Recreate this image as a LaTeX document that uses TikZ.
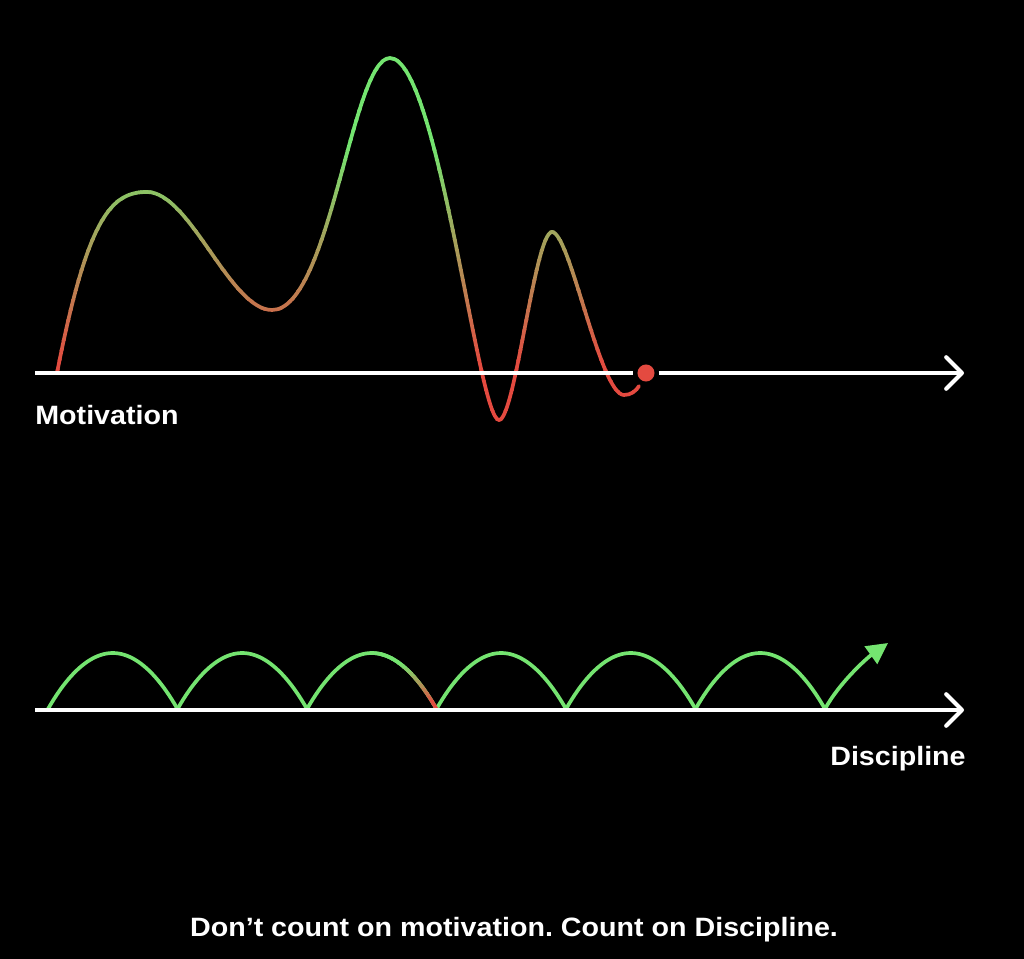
\documentclass[tikz,border=0pt]{standalone}
\usepackage{fontspec}
\setmainfont{Liberation Sans}[FakeStretch=1.08]
\usetikzlibrary{arrows.meta,calc}
\definecolor{motgreen}{RGB}{116,228,112}
\definecolor{motred}{RGB}{228,74,64}
\frenchspacing

% the motivation curve, in pixel units
\newcommand{\motcurve}{(57,373) .. controls (88,215) and (112,192) .. (147,192)
  .. controls (190,192) and (230,310) .. (272,310)
  .. controls (330,310) and (352,58) .. (390,58)
  .. controls (438,58) and (478,420) .. (499,420)
  .. controls (515,420) and (535,232) .. (552,232)
  .. controls (570,232) and (600,395) .. (624,395)
  .. controls (631,395) and (636,391) .. (639,386)}

\begin{document}
\begin{tikzpicture}[
  x=0.02cm, y=-0.02cm,
  axisline/.style={white, line width=2.3pt},
  motline/.style={line width=2.1pt, line cap=round},
  archline/.style={motgreen, line width=2.1pt, line cap=round},
  dot/.style={circle, fill=motred, minimum size=9.7pt, inner sep=0pt, outer sep=2.4pt},
  lbl/.style={white, inner sep=0pt, font=\fontsize{15.1}{18}\selectfont\bfseries},
  barb/.style={-{Straight Barb[length=9pt, width=18pt, round]}},
]
  \fill[black] (0,0) rectangle (1024,959);
  \useasboundingbox (0,0) rectangle (1024,959);

  % motivation: colour follows the height of the curve
  \foreach \i in {0,...,39} {
    \pgfmathsetmacro{\ya}{40+10*\i}
    \pgfmathtruncatemacro{\p}{max(0,min(100,(368-\ya-5)/220*100))}
    \begin{scope}
      \clip (0,\ya) rectangle (1024,\ya+10.6);
      \draw[motline, color=motgreen!\p!motred] \motcurve;
    \end{scope}
  }

  \coordinate (m0) at (35,373);
  \coordinate (m1) at (964,373);
  \node[dot] (mdot) at (646,373) {};
  \draw[axisline] (m0) -- (mdot);
  \draw[axisline, barb] (mdot) -- (m1);
  \node[lbl, anchor=west] (mlabel) at (35,415) {Motivation};

  % discipline: steady hops
  \foreach \i in {0,...,6}
    \coordinate (d\i) at ({48+129.5*\i},709);
  \coordinate (top2) at ($(d2)!0.5!(d3)+(0,-56)$);
  \coordinate (tip) at (888,643);

  \foreach \i [evaluate=\i as \j using int(\i+1)] in {0,1,2,3,4,5}
    \draw[archline] (d\i) parabola bend ($(d\i)!0.5!(d\j)+(0,-56)$) (d\j);
  \foreach \k in {0,...,15} {
    \pgfmathsetmacro{\ya}{648+4*\k}
    \pgfmathtruncatemacro{\p}{max(0,min(100,(704-\ya-2)/40*100))}
    \begin{scope}
      \clip ($(top2)+(0,-10)$) rectangle (450,720);
      \clip (0,\ya) rectangle (1024,\ya+4.4);
      \draw[archline, color=motgreen!\p!motred] (top2) parabola (d3);
    \end{scope}
  }
  \draw[archline, -{Triangle[length=12pt, width=12pt]}]
    (d6) .. controls (839,683) and (867,658) .. (tip);

  \draw[axisline, barb] (35,710) coordinate (da) -- (964,710) coordinate (db);
  \node[lbl, anchor=east] (dlabel) at (966,759) {Discipline};

  \node[lbl] (caption) at (514,930) {Don’t count on motivation. Count on Discipline.};
\end{tikzpicture}
\end{document}
